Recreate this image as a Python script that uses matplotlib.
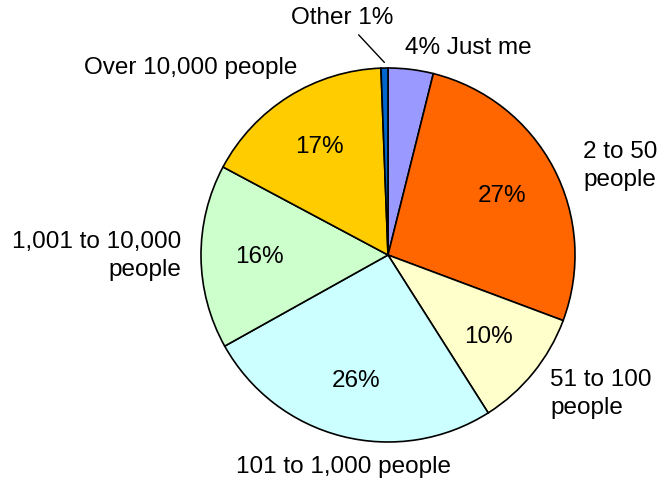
import numpy as np
import matplotlib.pyplot as plt

plt.rcParams['font.family'] = ['Liberation Sans', 'DejaVu Sans']

# slices, clockwise from 12 o'clock (percent)
names = ['Just me', '2 to 50\npeople', '51 to 100\npeople', '101 to 1,000 people',
         '1,001 to 10,000\npeople', 'Over 10,000 people', 'Other']
shares = [3.9, 26.8, 10.3, 25.9, 15.9, 16.6, 0.6]
colors = ['#9999FF', '#FF6600', '#FFFFCC', '#CCFFFF', '#CCFFCC', '#FFCC00', '#0066CC']

W, H = 666, 485
cx, cy, R = 388, H - 256, 187
fs = 17.5
ls = 1.3

fig = plt.figure(figsize=(W / 100, H / 100), dpi=100)
ax = fig.add_axes([0, 0, 1, 1])
wedges, _ = ax.pie(shares, colors=colors, startangle=90, counterclock=False,
                   center=(cx, cy), radius=R,
                   wedgeprops=dict(edgecolor='black', linewidth=1.2))
ax.set_xlim(0, W)
ax.set_ylim(0, H)
ax.set_aspect('equal')
ax.axis('off')


def mid_point(w, frac):
    a = np.deg2rad((w.theta1 + w.theta2) / 2)
    return cx + frac * R * np.cos(a), cy + frac * R * np.sin(a)


# percentages inside the big slices
for i in range(1, 6):
    x, y = mid_point(wedges[i], 0.69)
    ax.text(x, y, '%.0f%%' % shares[i], ha='center', va='center', fontsize=fs)

# outside labels
ax.text(405, H - 48, '%.0f%% %s' % (shares[0], names[0]), ha='left', va='center', fontsize=fs)
ax.text(583, H - 166, names[1], ha='left', va='center', fontsize=fs, linespacing=ls)
ax.text(550, H - 394, names[2], ha='left', va='center', fontsize=fs, linespacing=ls)
ax.text(343, H - 467, names[3], ha='center', va='center', fontsize=fs)
ax.text(181, H - 256, names[4], ha='right', va='center', fontsize=fs,
        multialignment='right', linespacing=ls)
ax.text(191, H - 68, names[5], ha='center', va='center', fontsize=fs)

ox, oy = mid_point(wedges[6], 1.03)
ax.annotate('%s %.0f%%' % (names[6], shares[6]), xy=(ox, oy), xytext=(342, H - 18),
            ha='center', va='center', fontsize=fs,
            arrowprops=dict(arrowstyle='-', color='black', lw=1,
                            shrinkA=4, shrinkB=0))

fig.savefig('out.png', dpi=100)
